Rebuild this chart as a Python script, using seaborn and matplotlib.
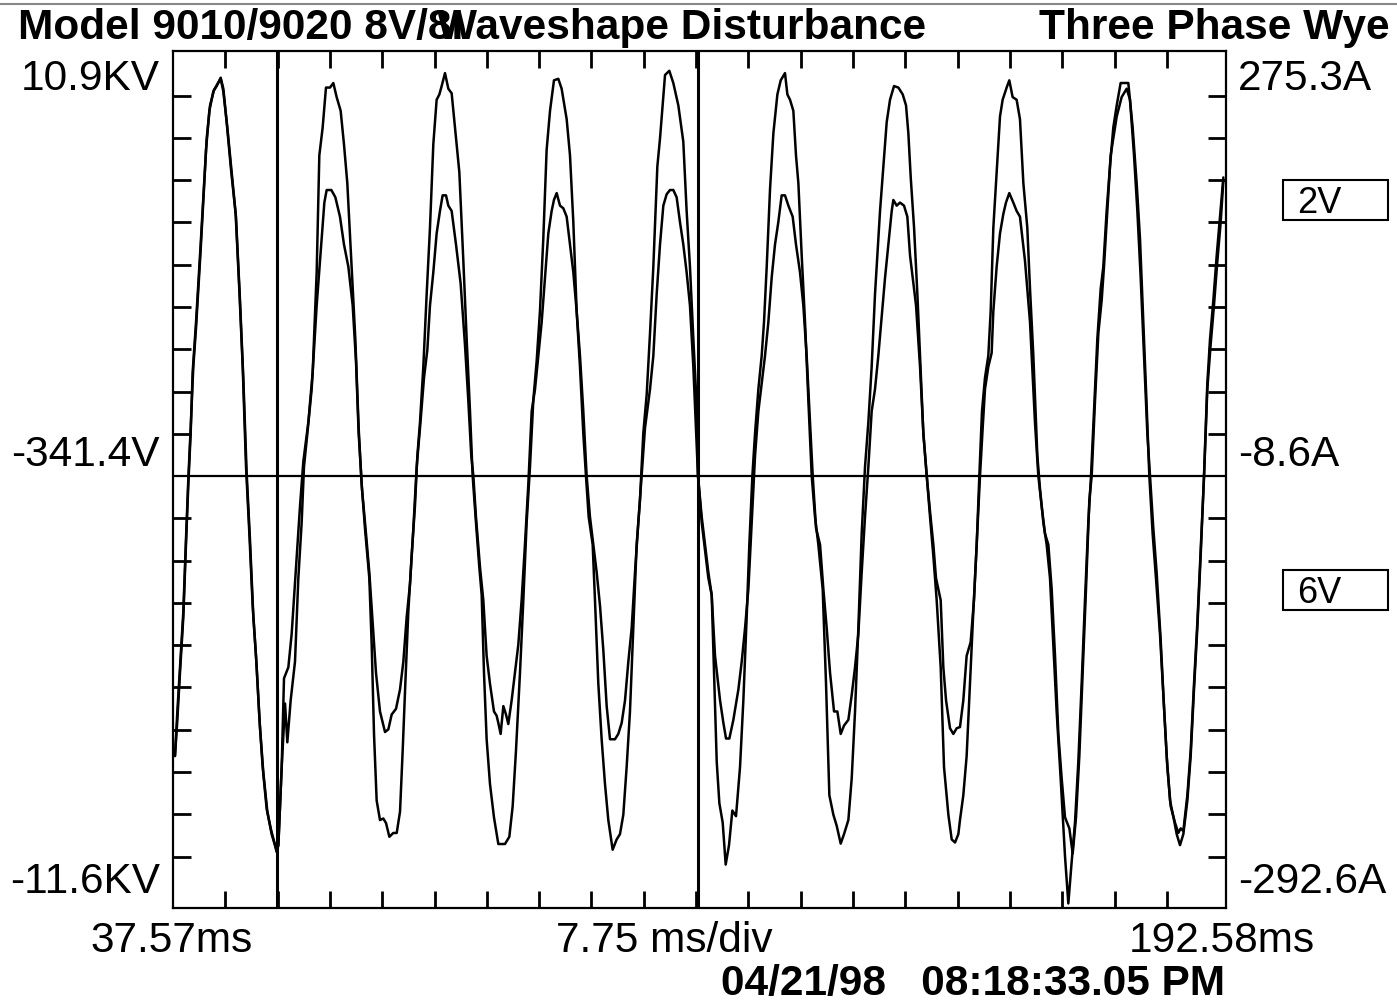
import numpy as np
import pandas as pd
import matplotlib
matplotlib.use("Agg")
import matplotlib.pyplot as plt
from matplotlib.lines import Line2D
from matplotlib.patches import Rectangle
import seaborn as sns

# capture window (ms) and screen range (kV)
t_start, t_end = 37.57, 192.58
v_top, v_bottom = 10.9, -11.6
v_mid = -0.26          # screen centre line
ms_per_div = 7.70      # division spacing as drawn on the screen
kv_per_div = 1.11
cursor_ms = 52.9
center_ms = 114.8

# channel traces: (ms, kV)
ch2 = [
    (37.86, -7.61), (38.21, -6.66), (38.60, -5.42), (39.09, -3.96), (39.48, -2.06), (39.83, -0.46),
    (40.17, 0.86), (40.46, 2.46), (40.96, 3.78), (41.64, 5.82), (42.43, 8.30), (42.92, 9.33),
    (43.51, 9.84), (44.00, 9.98), (44.59, 10.20), (44.98, 9.91), (45.47, 9.03), (46.11, 7.79),
    (46.79, 6.63), (47.33, 4.65), (47.83, 2.61), (48.32, -0.02), (48.81, -1.77), (49.30, -3.67),
    (49.79, -4.98), (50.28, -6.59), (50.77, -7.90), (51.36, -9.00), (51.95, -9.51), (52.49, -9.88),
    (52.83, -10.10), (53.08, -9.95), (53.57, -7.90), (53.91, -5.57), (54.55, -5.28), (55.04, -4.40),
    (55.68, -2.65), (56.27, -1.04), (56.76, 0.13), (57.49, 1.15), (58.13, 2.46), (58.72, 5.09),
    (59.11, 8.16), (59.60, 8.89), (60.09, 9.94), (60.68, 9.94), (61.17, 10.06), (61.66, 9.69),
    (62.25, 9.33), (62.74, 8.45), (63.23, 7.43), (63.87, 5.24), (64.41, 3.34), (64.90, 1.00),
    (65.34, -0.46), (65.83, -1.63), (66.47, -2.94), (66.82, -4.69), (67.16, -7.03), (67.55, -8.78),
    (68.04, -9.29), (68.53, -9.25), (68.93, -9.37), (69.42, -9.73), (70.00, -9.63), (70.50, -9.63),
    (70.99, -9.07), (71.38, -7.47), (71.77, -5.71), (72.21, -3.82), (72.70, -2.36), (73.19, -1.04),
    (73.54, 0.27), (73.93, 1.15), (74.42, 2.61), (74.91, 4.51), (75.40, 6.26), (75.89, 8.45),
    (76.38, 9.62), (76.78, 9.76), (77.12, 9.98), (77.61, 10.32), (78.10, 9.91), (78.59, 9.79),
    (79.08, 8.89), (79.72, 7.72), (80.31, 5.39), (80.80, 3.34), (81.29, 1.44), (81.68, -0.25),
    (82.17, -1.48), (82.66, -2.65), (83.01, -3.38), (83.35, -5.42), (83.74, -7.17), (84.23, -8.34),
    (84.82, -9.22), (85.46, -9.92), (86.44, -9.92), (87.08, -9.73), (87.57, -8.93), (88.06, -7.47),
    (88.65, -5.42), (89.14, -3.52), (89.63, -1.48), (90.12, -0.02), (90.61, 1.73), (91.10, 2.75),
    (91.59, 4.07), (92.08, 5.97), (92.57, 8.30), (93.07, 9.33), (93.65, 10.13), (94.29, 10.17),
    (94.78, 9.91), (95.52, 9.11), (96.01, 8.16), (96.50, 6.41), (96.99, 4.07), (97.48, 2.61),
    (97.97, 0.86), (98.36, -0.25), (98.76, -1.33), (99.35, -2.06), (99.69, -3.52), (100.18, -5.71),
    (100.67, -7.17), (101.16, -8.34), (101.65, -9.29), (102.29, -10.07), (102.88, -9.80), (103.37, -9.66),
    (103.86, -9.15), (104.35, -7.90), (104.84, -6.44), (105.33, -4.25), (105.82, -2.06), (106.31, -0.90),
    (106.80, 0.86), (107.30, 1.88), (107.79, 3.49), (108.28, 5.24), (108.87, 7.87), (109.26, 8.60),
    (110.00, 10.27), (110.63, 10.38), (111.22, 10.06), (111.96, 9.47), (112.69, 8.52), (113.18, 6.70),
    (113.67, 5.24), (114.17, 3.34), (114.66, 1.59), (114.85, -0.25), (115.40, -1.48), (115.89, -2.21),
    (116.38, -2.94), (116.87, -3.38), (117.21, -5.42), (117.61, -7.76), (118.00, -8.85), (118.49, -9.36),
    (118.93, -10.46), (119.42, -9.95), (119.91, -9.04), (120.45, -9.19), (121.04, -7.90), (121.53, -6.15),
    (122.02, -3.96), (122.41, -2.06), (122.86, -0.25), (123.25, 0.86), (123.74, 2.02), (124.23, 2.90),
    (124.57, 3.78), (124.97, 5.24), (125.46, 7.28), (125.95, 8.74), (126.54, 9.76), (127.03, 10.13),
    (127.66, 10.32), (128.01, 9.76), (128.40, 9.62), (128.89, 9.33), (129.28, 8.16), (129.63, 7.43),
    (130.12, 5.53), (130.61, 3.78), (131.10, 1.73), (131.59, -0.25), (132.08, -1.33), (132.57, -2.06),
    (133.21, -3.23), (133.70, -5.71), (134.19, -8.64), (134.78, -9.15), (135.27, -9.44), (135.86, -9.91),
    (136.35, -9.66), (136.99, -9.29), (137.48, -8.20), (137.97, -6.44), (138.46, -4.25), (138.95, -1.77),
    (139.44, -0.02), (139.93, 1.15), (140.42, 2.61), (140.91, 4.51), (141.65, 6.70), (142.14, 7.87),
    (142.63, 9.03), (143.12, 9.62), (143.71, 9.98), (144.35, 9.94), (144.99, 9.76), (145.48, 9.47),
    (145.82, 8.74), (146.17, 7.58), (146.66, 6.26), (147.15, 4.51), (147.54, 2.90), (148.03, 0.86),
    (148.52, -0.25), (149.01, -1.33), (149.50, -2.36), (149.99, -3.52), (150.58, -5.28), (151.07, -7.90),
    (151.71, -9.15), (152.20, -9.80), (152.69, -9.88), (153.18, -9.66), (153.42, -9.29), (153.91, -8.64),
    (154.40, -7.61), (154.89, -5.71), (155.38, -3.82), (155.88, -2.06), (156.27, -0.25), (156.66, 1.44),
    (157.10, 2.32), (157.59, 2.90), (157.94, 4.07), (158.33, 6.26), (158.82, 7.72), (159.31, 9.18),
    (159.70, 9.62), (160.29, 9.94), (160.68, 10.13), (161.17, 9.69), (161.76, 9.62), (162.25, 9.11),
    (162.75, 7.43), (163.33, 6.26), (163.73, 4.65), (164.22, 2.90), (164.81, 0.27), (165.20, -0.60),
    (165.69, -1.48), (166.18, -2.06), (166.67, -2.94), (167.16, -4.69), (167.65, -6.44), (168.24, -8.20),
    (168.88, -10.24), (169.37, -11.48), (169.86, -10.39), (170.35, -9.36), (170.84, -7.76), (171.33, -5.71),
    (171.82, -3.52), (172.31, -1.48), (172.71, -0.25), (173.15, 1.44), (173.64, 3.34), (174.13, 4.65),
    (174.52, 5.24), (175.01, 6.70), (175.50, 7.87), (175.99, 8.89), (176.49, 9.47), (177.07, 10.06),
    (178.20, 10.06), (178.84, 8.89), (179.43, 7.43), (179.92, 5.97), (180.41, 3.78), (180.90, 1.59),
    (181.29, -0.25), (181.78, -1.77), (182.27, -2.94), (182.86, -4.40), (183.35, -6.01), (183.85, -7.61),
    (184.34, -8.78), (184.93, -9.29), (185.32, -9.66), (185.81, -9.95), (186.30, -9.66), (186.89, -8.78),
    (187.38, -7.61), (187.87, -5.86), (188.36, -4.25), (188.85, -2.36), (189.34, -0.25), (189.83, 2.17),
    (190.23, 3.34), (190.72, 4.36), (191.21, 5.53), (191.70, 6.55), (192.19, 7.58),
]

ch6 = [
    (37.86, -7.61), (38.21, -6.44), (38.60, -5.28), (39.09, -3.82), (39.48, -1.92), (39.83, -0.31),
    (40.17, 1.00), (40.56, 2.61), (40.96, 3.63), (41.64, 5.67), (42.53, 8.60), (43.02, 9.47),
    (43.61, 9.88), (44.10, 10.03), (44.59, 10.17), (44.98, 9.84), (45.57, 8.89), (46.21, 7.72),
    (46.84, 6.55), (47.43, 4.36), (47.92, 2.32), (48.41, -0.17), (48.90, -1.92), (49.40, -3.96),
    (49.89, -5.28), (50.38, -6.88), (50.87, -8.05), (51.46, -9.07), (52.09, -9.66), (52.58, -9.95),
    (52.83, -10.13), (53.08, -9.95), (53.57, -7.90), (54.06, -6.23), (54.40, -7.25), (54.89, -6.15),
    (55.53, -5.13), (56.02, -2.94), (56.51, -1.48), (56.85, -0.02), (57.35, 0.86), (57.98, 2.02),
    (58.72, 4.22), (59.46, 5.97), (59.85, 6.92), (60.19, 7.25), (60.88, 7.25), (61.47, 7.06),
    (62.15, 6.55), (62.74, 5.82), (63.38, 5.24), (64.02, 4.22), (64.51, 2.75), (64.90, 0.86),
    (65.39, -0.60), (65.98, -1.77), (66.47, -2.79), (66.96, -4.11), (67.45, -5.42), (68.04, -6.44),
    (68.78, -6.98), (69.27, -6.91), (69.76, -6.52), (70.40, -6.37), (70.99, -5.86), (71.48, -5.13),
    (71.97, -3.96), (72.46, -3.09), (72.95, -1.63), (73.44, -0.02), (73.93, 1.00), (74.52, 2.32),
    (75.01, 3.05), (75.40, 4.22), (75.89, 5.09), (76.38, 6.11), (76.87, 6.70), (77.26, 7.11),
    (77.76, 7.11), (78.10, 6.84), (78.59, 6.70), (79.23, 5.82), (79.91, 4.80), (80.55, 3.19),
    (81.04, 1.73), (81.48, 0.27), (81.78, -0.25), (82.17, -1.33), (82.76, -2.65), (83.25, -3.52),
    (83.74, -4.98), (84.23, -5.71), (84.82, -6.44), (85.21, -6.55), (85.46, -6.74), (85.80, -7.03),
    (86.20, -6.30), (86.59, -6.52), (86.93, -6.77), (87.42, -6.15), (87.91, -5.42), (88.40, -4.69),
    (88.89, -3.52), (89.38, -2.06), (89.88, -0.46), (90.37, 1.44), (90.86, 2.02), (91.35, 2.90),
    (91.84, 3.78), (92.33, 4.95), (92.82, 6.11), (93.31, 6.70), (93.65, 6.99), (94.05, 7.17),
    (94.54, 6.84), (95.03, 6.77), (95.52, 6.55), (96.01, 5.82), (96.50, 5.09), (96.99, 4.07),
    (97.48, 2.90), (97.97, 1.44), (98.46, -0.25), (98.95, -1.33), (99.44, -2.06), (99.94, -2.79),
    (100.43, -3.67), (100.92, -4.84), (101.41, -6.30), (101.90, -7.17), (102.63, -7.17), (103.12, -7.03),
    (103.62, -6.74), (104.11, -6.15), (104.60, -5.13), (105.09, -4.25), (105.58, -2.79), (106.07, -1.48),
    (106.56, -0.25), (107.05, 1.00), (107.79, 2.02), (108.28, 2.90), (108.77, 4.51), (109.26, 5.82),
    (109.75, 6.84), (110.24, 7.14), (110.73, 7.25), (111.22, 7.25), (111.71, 7.06), (112.20, 6.41),
    (112.69, 5.82), (113.18, 5.09), (113.67, 4.22), (114.17, 2.60), (114.85, -0.25), (115.40, -1.33),
    (115.89, -2.06), (116.38, -2.79), (116.87, -3.38), (117.36, -4.98), (118.10, -6.15), (118.59, -6.74),
    (118.98, -7.15), (119.47, -7.15), (120.06, -6.66), (120.80, -5.86), (121.29, -5.13), (121.78, -4.25),
    (122.27, -3.23), (122.76, -1.48), (123.25, 0.27), (123.74, 1.44), (124.23, 2.17), (124.72, 2.90),
    (125.21, 3.78), (125.70, 4.95), (126.19, 5.82), (126.68, 6.41), (127.17, 7.11), (127.66, 7.11),
    (128.16, 6.84), (128.79, 6.55), (129.28, 5.82), (129.87, 5.09), (130.36, 4.22), (130.85, 2.90),
    (131.35, 1.15), (131.74, -0.25), (132.23, -1.63), (132.82, -2.06), (133.31, -3.23), (133.80, -4.25),
    (134.29, -5.42), (134.88, -6.44), (135.37, -6.44), (135.86, -7.03), (136.35, -6.81), (136.99, -6.66),
    (137.48, -6.01), (137.97, -5.28), (138.46, -4.40), (138.95, -2.79), (139.44, -1.33), (139.93, -0.02),
    (140.42, 1.44), (140.91, 2.02), (141.40, 2.90), (141.89, 3.92), (142.39, 4.95), (142.88, 5.82),
    (143.37, 6.70), (143.61, 6.99), (144.10, 6.84), (144.59, 6.92), (145.18, 6.84), (145.67, 6.55),
    (146.07, 5.53), (146.46, 4.95), (146.95, 4.22), (147.54, 2.61), (148.03, 0.86), (148.52, -0.25),
    (149.01, -1.19), (149.50, -2.06), (149.89, -2.94), (150.24, -3.23), (150.58, -3.52), (150.97, -5.28),
    (151.37, -6.15), (151.95, -6.88), (152.44, -7.03), (152.94, -6.88), (153.42, -6.85), (153.91, -6.15),
    (154.40, -4.98), (154.99, -4.62), (155.48, -3.52), (155.88, -2.06), (156.37, -0.25), (156.76, 1.00),
    (157.10, 2.02), (157.59, 2.61), (158.08, 2.97), (158.33, 4.07), (158.82, 5.24), (159.31, 6.11),
    (159.80, 6.62), (160.19, 6.92), (160.68, 7.17), (161.27, 6.92), (161.76, 6.70), (162.25, 6.55),
    (162.99, 5.39), (163.73, 3.78), (164.46, 1.15), (164.95, -0.25), (165.44, -1.04), (165.93, -1.77),
    (166.43, -2.06), (166.92, -3.23), (167.41, -4.98), (167.90, -7.03), (168.39, -8.20), (168.88, -9.22),
    (169.52, -9.51), (170.01, -10.17), (170.50, -9.22), (170.99, -7.61), (171.48, -5.42), (171.97, -3.23),
    (172.46, -0.90), (172.81, -0.25), (173.30, 1.73), (173.79, 3.49), (174.28, 4.36), (174.62, 5.24),
    (175.11, 6.70), (175.60, 8.16), (175.99, 8.60), (176.49, 9.18), (177.22, 9.69), (177.96, 9.91),
    (178.45, 9.62), (179.04, 8.16), (179.53, 6.70), (180.02, 4.95), (180.51, 2.90), (181.00, 0.86),
    (181.39, -0.25), (181.88, -1.63), (182.37, -2.79), (182.96, -4.55), (183.45, -6.30), (183.94, -7.90),
    (184.44, -8.93), (185.07, -9.36), (185.56, -9.63), (185.91, -9.51), (186.30, -9.58), (186.89, -8.64),
    (187.38, -7.47), (187.87, -5.71), (188.36, -4.11), (188.85, -2.21), (189.34, -0.31), (189.83, 2.02),
    (190.32, 3.19), (190.81, 4.22), (191.31, 5.39), (191.80, 6.41), (192.19, 7.50),
]

rows = []
for name, pts in (("2V", ch2), ("6V", ch6)):
    for t, v in pts:
        rows.append((name, t, v))
df = pd.DataFrame(rows, columns=["channel", "ms", "kV"])

sns.set_style("white")
plt.rcParams["font.family"] = ["Liberation Sans", "DejaVu Sans"]
plt.rcParams["text.color"] = "black"

W, H = 1397, 1002
fig = plt.figure(figsize=(W / 100, H / 100), dpi=100)


def fx(px):
    return px / W


def fy(py):
    return 1 - py / H


ax = fig.add_axes([fx(173), fy(908), (1226 - 173) / W, (908 - 51) / H])

sns.lineplot(data=df, x="ms", y="kV", hue="channel",
             palette={"2V": "black", "6V": "black"},
             estimator=None, sort=False, lw=1.8, legend=False, ax=ax)

ax.set_xlim(t_start, t_end)
ax.set_ylim(v_bottom, v_top)
ax.set_xticks([t_start + k * ms_per_div for k in range(1, 20)])
ax.set_yticks([v_mid + k * kv_per_div for k in range(-9, 10) if k != 0])
ax.tick_params(axis="x", direction="in", top=True, bottom=True, length=12.5,
               width=2.0, color="black", labelbottom=False, labeltop=False)
ax.tick_params(axis="y", direction="in", left=True, right=True, length=13,
               width=2.0, color="black", labelleft=False, labelright=False)
ax.set_xlabel("")
ax.set_ylabel("")
for s in ax.spines.values():
    s.set_visible(True)
    s.set_color("black")
    s.set_linewidth(1.6)

ax.axhline(v_mid, color="black", lw=1.6)
ax.axvline(cursor_ms, color="black", lw=2.2)
ax.axvline(center_ms, color="black", lw=2.2)

# header
fig.add_artist(Line2D([0, 1], [fy(4), fy(4)], color="#888888", lw=1.5))
big = 30.5
fig.text(fx(18), fy(39), "Model 9010/9020 8V/8I", fontsize=big, fontweight="bold", ha="left", va="baseline")
fig.text(fx(437), fy(39), "Waveshape Disturbance", fontsize=big, fontweight="bold", ha="left", va="baseline")
fig.text(fx(1390), fy(39), "Three Phase Wye", fontsize=big, fontweight="bold", ha="right", va="baseline")

# scale labels
for txt, py in (("10.9KV", 90), ("-341.4V", 466), ("-11.6KV", 893)):
    fig.text(fx(160), fy(py), txt, fontsize=big, ha="right", va="baseline")
for txt, py in (("275.3A", 90), ("-8.6A", 466), ("-292.6A", 893)):
    fig.text(fx(1238), fy(py), txt, fontsize=big, ha="left", va="baseline")

# channel boxes
for txt, top in (("2V", 180), ("6V", 570)):
    fig.add_artist(Rectangle((fx(1283), fy(top + 40)), 105 / W, 40 / H, fill=False,
                             ec="black", lw=1.5, transform=fig.transFigure))
    fig.text(fx(1297), fy(top + 33), txt, fontsize=26, ha="left", va="baseline")

# footer
fig.text(fx(172), fy(952), "37.57ms", fontsize=big, ha="center", va="baseline")
fig.text(fx(664), fy(952), "7.75 ms/div", fontsize=big, ha="center", va="baseline")
fig.text(fx(1222), fy(952), "192.58ms", fontsize=big, ha="center", va="baseline")
fig.text(fx(1225), fy(995), "04/21/98   08:18:33.05 PM", fontsize=big, fontweight="bold",
         ha="right", va="baseline")

fig.savefig("out.png", dpi=100)
